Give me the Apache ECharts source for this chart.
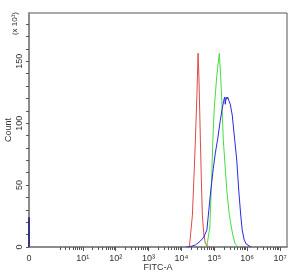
<!DOCTYPE html>
<html><head><meta charset="utf-8">
<script src="https://cdn.jsdelivr.net/npm/echarts@6/dist/echarts.min.js"></script>
<style>html,body{margin:0;padding:0;background:#fff}#c{width:290px;height:275px}</style>
</head><body><div id="c"></div>
<script>
// x values are in log10 decades (biexponential display; "0" sits left of 10^1)
const xZeroPos = -0.636;
const xTickPos = [xZeroPos, 1, 2, 3, 4, 5, 6, 7];
const xTickLabels = ['0', '10¹', '10²', '10³', '10⁴', '10⁵', '10⁶', '10⁷'];
const yTickLabels = [0, 50, 100, 150];

const redLog =   [4.242, 4.288, 4.333, 4.379, 4.424, 4.470, 4.506, 4.530, 4.555, 4.576, 4.606, 4.636, 4.682, 4.727, 4.788, 4.848];
const redCount = [0, 1.6, 25.8, 55.6, 86.3, 122.6, 156.5, 138.7, 110.5, 86.3, 54.0, 25.8, 9.7, 3.2, 0.8, 0];

const greenLog =   [4.697, 4.779, 4.864, 4.924, 4.955, 5.0, 5.076, 5.152, 5.191, 5.227, 5.273, 5.379, 5.455, 5.561, 5.636, 5.727];
const greenCount = [0, 1.6, 16.1, 59.7, 86.3, 112.9, 138.7, 156.5, 138.7, 118.5, 86.3, 46.0, 25.8, 9.7, 2.4, 0];

const blueLog =   [4.152, 4.273, 4.424, 4.576, 4.682, 4.773, 4.833, 4.894, 4.970, 5.030, 5.106, 5.182, 5.242, 5.288, 5.312, 5.333, 5.358, 5.379, 5.409, 5.439, 5.485, 5.545, 5.621, 5.682, 5.742, 5.803, 5.848, 5.909, 5.970, 6.030, 6.121];
const blueCount = [0, 0.4, 1.6, 4.8, 8.1, 13.7, 29.8, 46.0, 63.7, 75.8, 87.9, 102.4, 112.1, 118.5, 121.0, 115.3, 121.0, 119.3, 121.0, 118.5, 115.3, 106.5, 86.3, 70.2, 46.0, 25.8, 13.7, 5.6, 2.4, 1.2, 0];

const zeroPileCount = [0, 24];

const zip = (a, b) => a.map((v, i) => [v, b[i]]);
const minorX = [];
for (let d = 0; d < 7; d++) {
  for (let k = 2; k <= 9; k++) minorX.push(d + Math.log10(k));
}
const yMinor = [];
for (let v = 0; v <= 180; v += 10) yMinor.push(v);

const FONT = 'Liberation Sans';
const axisGray = '#8c8c8c';
const chart = echarts.init(document.getElementById('c'));
chart.setOption({
  animation: false,
  grid: { left: 29, right: 3, top: 13, bottom: 28, show: true, borderColor: '#555', borderWidth: 1,
          containLabel: false, outerBoundsMode: 'none' },
  xAxis: [{
    type: 'value', min: -0.636, max: 7.21,
    name: 'FITC-A', nameLocation: 'middle', nameGap: 16, nameMoveOverlap: false,
    nameTextStyle: { fontFamily: FONT, fontSize: 9, color: '#333' },
    axisLine: { onZero: false, lineStyle: { color: axisGray, width: 2 } },
    splitLine: { show: false },
    axisTick: { show: true, length: 4, lineStyle: { color: '#555' }, customValues: xTickPos.slice(1) },
    axisLabel: { fontFamily: FONT, fontSize: 9, color: '#333', margin: 7,
      customValues: xTickPos,
      formatter: v => { const i = xTickPos.findIndex(p => Math.abs(p - v) < 1e-6); return i >= 0 ? xTickLabels[i] : ''; } }
  }, {
    type: 'value', min: -0.636, max: 7.21, position: 'bottom',
    axisLine: { show: false, onZero: false }, splitLine: { show: false }, axisLabel: { show: false },
    axisTick: { show: true, length: 3, lineStyle: { color: '#555' }, customValues: minorX }
  }],
  yAxis: {
    type: 'value', min: 0, max: 189,
    name: 'Count', nameLocation: 'middle', nameGap: 16, nameMoveOverlap: false,
    nameTextStyle: { fontFamily: FONT, fontSize: 9, color: '#333' },
    axisLine: { show: true, onZero: false, lineStyle: { color: axisGray, width: 2 } },
    splitLine: { show: false },
    axisTick: { show: true, length: 3, lineStyle: { color: '#555' }, customValues: yMinor },
    axisLabel: { fontFamily: FONT, fontSize: 9, color: '#333', rotate: 90, margin: 5,
      customValues: yTickLabels, formatter: v => String(v) }
  },
  graphic: [{
    type: 'text', left: 11, top: 12, rotation: Math.PI / 2,
    style: { text: '(x 10¹)', font: '8px "Liberation Sans"', fill: '#333' }
  }],
  series: [
    { type: 'line', data: zip(redLog, redCount), showSymbol: false, lineStyle: { color: '#e04848', width: 1 } },
    { type: 'line', data: zip(greenLog, greenCount), showSymbol: false, lineStyle: { color: '#44dd44', width: 1 } },
    { type: 'line', data: zip(blueLog, blueCount), showSymbol: false, lineStyle: { color: '#2a2ae0', width: 1 } },
    { type: 'line', data: zeroPileCount.map(c => [xZeroPos, c]), showSymbol: false, lineStyle: { color: '#1a1a80', width: 1.5 } }
  ]
});
</script></body></html>
